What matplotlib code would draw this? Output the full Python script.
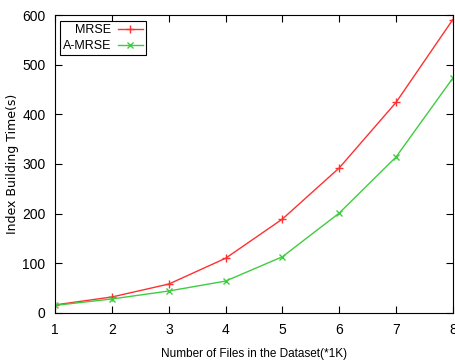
import matplotlib
matplotlib.use("Agg")
import matplotlib.pyplot as plt

files_k = [1, 2, 3, 4, 5, 6, 7, 8]
mrse = [16, 32, 58, 110, 189, 292, 424, 591]
a_mrse = [15, 28, 44, 64, 113, 201, 314, 473]

narrow = ["Liberation Sans Narrow", "Liberation Sans", "DejaVu Sans"]

fig = plt.figure(figsize=(4.56, 3.6), dpi=100)
ax = fig.add_axes([0.121, 0.131, 0.872, 0.827])

ax.plot(files_k, mrse, color="#ff3030", lw=1, marker="+", ms=6, mew=1, label="MRSE")
ax.plot(files_k, a_mrse, color="#40cc40", lw=1, marker="x", ms=5, mew=1, label="A-MRSE")

ax.set_xlim(1, 8)
ax.set_ylim(0, 600)
ax.set_xticks(files_k)
ax.set_yticks(range(0, 601, 100))
ax.tick_params(direction="in", top=True, right=True, length=5, width=0.8, pad=7)
for lab in ax.get_xticklabels() + ax.get_yticklabels():
    lab.set_family(narrow)
    lab.set_fontsize(10)
for s in ax.spines.values():
    s.set_linewidth(0.8)

ax.set_xlabel("Number of Files in the Dataset(*1K)", family=narrow, fontsize=8.5, labelpad=8)
ax.set_ylabel("Index Building Time(s)", fontsize=9, labelpad=2)

leg = ax.legend(loc="upper left", markerfirst=False, fancybox=False, framealpha=1,
                edgecolor="black", handlelength=2.0, borderpad=0.25,
                labelspacing=0.3, handletextpad=0.5, borderaxespad=0,
                bbox_to_anchor=(0.012, 0.98), prop={"family": narrow, "size": 9})
leg.get_frame().set_linewidth(0.8)

fig.savefig("out.png", dpi=100)
